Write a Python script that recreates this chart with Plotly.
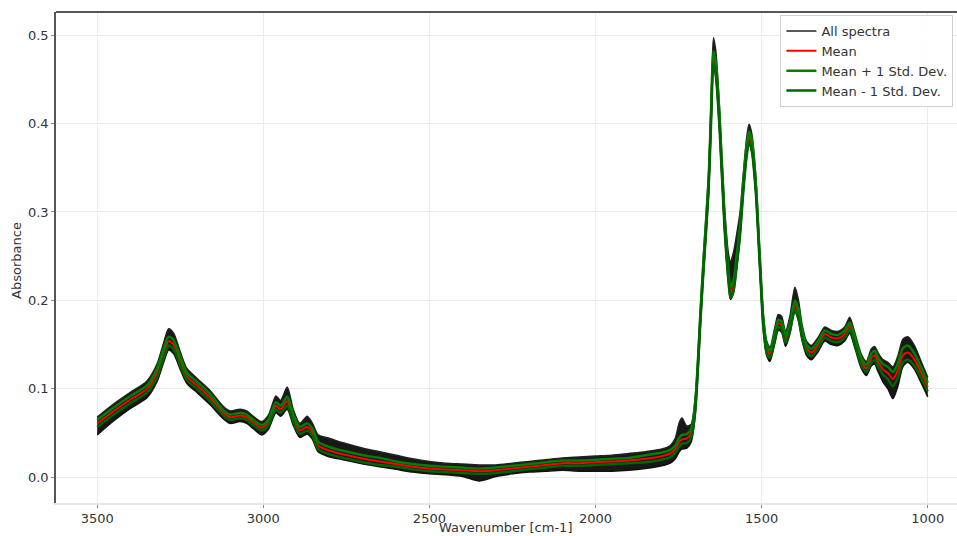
import plotly.graph_objects as go

wavenumber = [3500, 3450, 3400, 3350, 3320, 3300, 3285, 3270, 3250, 3230, 3200, 3160, 3120, 3100, 3070, 3050, 3030, 3005, 2985, 2962,
              2948, 2928, 2910, 2890, 2868, 2852, 2835, 2800, 2760, 2700, 2650, 2600, 2550, 2500, 2450, 2400, 2350, 2300, 2250, 2200,
              2150, 2100, 2050, 2000, 1950, 1900, 1850, 1800, 1775, 1760, 1748, 1740, 1725, 1712, 1700, 1690, 1685, 1675, 1660, 1652,
              1645, 1638, 1627, 1612, 1600, 1594, 1585, 1575, 1565, 1555, 1545, 1538, 1530, 1518, 1505, 1495, 1485, 1475, 1460, 1450,
              1440, 1428, 1415, 1400, 1390, 1378, 1365, 1350, 1330, 1310, 1290, 1270, 1250, 1235, 1220, 1200, 1185, 1170, 1160, 1150,
              1135, 1120, 1105, 1090, 1075, 1060, 1040, 1020, 1000]

mean_abs = [0.061, 0.075, 0.088, 0.100, 0.118, 0.140, 0.154, 0.150, 0.131, 0.114, 0.104, 0.090, 0.073, 0.068, 0.070, 0.068, 0.062, 0.056, 0.062, 0.081,
            0.077, 0.086, 0.067, 0.053, 0.057, 0.051, 0.036, 0.030, 0.026, 0.021, 0.018, 0.015, 0.012, 0.010, 0.009, 0.008, 0.007, 0.008, 0.010, 0.012,
            0.014, 0.016, 0.016, 0.017, 0.018, 0.019, 0.021, 0.024, 0.027, 0.032, 0.040, 0.043, 0.044, 0.050, 0.080, 0.140, 0.177, 0.240, 0.328, 0.410,
            0.475, 0.462, 0.403, 0.290, 0.228, 0.209, 0.216, 0.245, 0.280, 0.330, 0.370, 0.385, 0.376, 0.330, 0.240, 0.175, 0.146, 0.139, 0.160, 0.174,
            0.172, 0.156, 0.170, 0.195, 0.186, 0.162, 0.146, 0.141, 0.150, 0.162, 0.158, 0.157, 0.162, 0.171, 0.155, 0.131, 0.123, 0.135, 0.138, 0.131,
            0.122, 0.118, 0.111, 0.121, 0.138, 0.141, 0.133, 0.118, 0.102]

std_abs = [0.004, 0.004, 0.004, 0.004, 0.005, 0.005, 0.005, 0.005, 0.005, 0.004, 0.004, 0.004, 0.003, 0.003, 0.003, 0.003, 0.003, 0.003, 0.003, 0.004,
           0.004, 0.005, 0.004, 0.004, 0.004, 0.004, 0.004, 0.004, 0.004, 0.004, 0.004, 0.003, 0.003, 0.003, 0.003, 0.003, 0.003, 0.003, 0.003, 0.003,
           0.003, 0.003, 0.003, 0.003, 0.003, 0.003, 0.004, 0.004, 0.004, 0.004, 0.005, 0.005, 0.005, 0.005, 0.005, 0.005, 0.005, 0.006, 0.006, 0.007,
           0.007, 0.007, 0.007, 0.006, 0.006, 0.006, 0.006, 0.006, 0.006, 0.006, 0.006, 0.006, 0.006, 0.006, 0.005, 0.005, 0.005, 0.004, 0.004, 0.004,
           0.004, 0.004, 0.004, 0.005, 0.005, 0.004, 0.004, 0.004, 0.004, 0.004, 0.004, 0.004, 0.004, 0.004, 0.004, 0.004, 0.004, 0.005, 0.005, 0.005,
           0.006, 0.007, 0.008, 0.008, 0.008, 0.008, 0.007, 0.006, 0.005]

spread_up = [0.007, 0.008, 0.008, 0.009, 0.010, 0.012, 0.014, 0.013, 0.011, 0.009, 0.008, 0.008, 0.007, 0.007, 0.007, 0.007, 0.007, 0.007, 0.008, 0.011,
             0.010, 0.016, 0.010, 0.008, 0.012, 0.010, 0.012, 0.014, 0.013, 0.012, 0.011, 0.010, 0.009, 0.008, 0.007, 0.007, 0.007, 0.006, 0.006, 0.006,
             0.006, 0.006, 0.007, 0.007, 0.007, 0.008, 0.008, 0.008, 0.009, 0.012, 0.022, 0.024, 0.014, 0.010, 0.010, 0.010, 0.010, 0.012, 0.014, 0.018,
             0.022, 0.020, 0.016, 0.018, 0.025, 0.035, 0.038, 0.030, 0.020, 0.014, 0.014, 0.014, 0.013, 0.012, 0.010, 0.010, 0.008, 0.008, 0.010, 0.010,
             0.010, 0.009, 0.012, 0.020, 0.016, 0.010, 0.008, 0.008, 0.008, 0.008, 0.008, 0.008, 0.008, 0.010, 0.009, 0.008, 0.008, 0.010, 0.010, 0.010,
             0.011, 0.012, 0.014, 0.016, 0.018, 0.018, 0.016, 0.013, 0.011]

spread_down = [0.013, 0.011, 0.010, 0.010, 0.010, 0.010, 0.010, 0.010, 0.009, 0.008, 0.008, 0.008, 0.007, 0.007, 0.007, 0.007, 0.007, 0.008, 0.008, 0.008,
               0.008, 0.009, 0.008, 0.008, 0.008, 0.008, 0.007, 0.007, 0.006, 0.006, 0.006, 0.006, 0.006, 0.006, 0.006, 0.007, 0.011, 0.007, 0.006, 0.006,
               0.007, 0.008, 0.009, 0.010, 0.011, 0.011, 0.011, 0.011, 0.011, 0.011, 0.011, 0.011, 0.011, 0.010, 0.010, 0.010, 0.010, 0.010, 0.010, 0.010,
               0.010, 0.010, 0.010, 0.010, 0.008, 0.008, 0.008, 0.008, 0.008, 0.008, 0.008, 0.008, 0.008, 0.008, 0.008, 0.008, 0.008, 0.008, 0.008, 0.008,
               0.008, 0.008, 0.008, 0.008, 0.008, 0.008, 0.008, 0.008, 0.008, 0.008, 0.008, 0.008, 0.008, 0.008, 0.008, 0.008, 0.008, 0.009, 0.010, 0.011,
               0.014, 0.018, 0.022, 0.018, 0.013, 0.011, 0.011, 0.011, 0.011]

x_ticks = [3500, 3000, 2500, 2000, 1500, 1000]
y_ticks = [0.0, 0.1, 0.2, 0.3, 0.4, 0.5]

env_hi = [m + u for m, u in zip(mean_abs, spread_up)]
env_lo = [m - d for m, d in zip(mean_abs, spread_down)]
plus_std = [m + s for m, s in zip(mean_abs, std_abs)]
minus_std = [m - s for m, s in zip(mean_abs, std_abs)]

FONT = "DejaVu Sans"
FS = 13
TXT = "#333333"
shape = dict(shape="spline", smoothing=0.7)

fig = go.Figure()
fig.add_trace(go.Scatter(x=wavenumber, y=env_hi, mode="lines", name="All spectra",
                         line=dict(color="#222222", width=1.5, **shape)))
fig.add_trace(go.Scatter(x=wavenumber, y=env_lo, mode="lines", showlegend=False,
                         fill="tonexty", fillcolor="rgba(12,12,12,0.95)",
                         line=dict(color="#111111", width=1.5, **shape)))
fig.add_trace(go.Scatter(x=wavenumber, y=mean_abs, mode="lines", name="Mean",
                         line=dict(color="#ff0000", width=2, **shape)))
fig.add_trace(go.Scatter(x=wavenumber, y=plus_std, mode="lines", name="Mean + 1 Std. Dev.",
                         line=dict(color="#008000", width=2.5, **shape)))
fig.add_trace(go.Scatter(x=wavenumber, y=minus_std, mode="lines", name="Mean - 1 Std. Dev.",
                         line=dict(color="#006400", width=2.5, **shape)))

fig.update_layout(
    width=957, height=536,
    margin=dict(l=56, r=0, t=12, b=33, autoexpand=False),
    plot_bgcolor="white", paper_bgcolor="white",
    font=dict(family=FONT, size=FS, color=TXT),
    showlegend=True,
    legend=dict(x=0.804, y=0.994, xanchor="left", yanchor="top", traceorder="normal",
                bgcolor="rgba(255,255,255,0.9)", bordercolor="#d0d0d0", borderwidth=1,
                font=dict(family=FONT, size=FS, color=TXT),
                itemwidth=30, tracegroupgap=0),
    xaxis=dict(range=[3624, 912], tickvals=x_ticks, ticktext=[str(t) for t in x_ticks],
               showgrid=True, gridcolor="#ebebeb", gridwidth=1,
               showline=True, linecolor="#e6e6e6", linewidth=1.5,
               ticks="outside", ticklen=3, tickcolor="#888888",
               zeroline=False, automargin=False,
               tickfont=dict(family=FONT, size=FS, color=TXT)),
    yaxis=dict(range=[-0.029, 0.526], tickvals=y_ticks, ticktext=["0.0", "0.1", "0.2", "0.3", "0.4", "0.5"],
               showgrid=True, gridcolor="#ebebeb", gridwidth=1,
               showline=True, linecolor="#555555", linewidth=1.5,
               ticks="outside", ticklen=3, tickcolor="#888888",
               zeroline=False, automargin=False,
               tickfont=dict(family=FONT, size=FS, color=TXT)),
    shapes=[dict(type="line", xref="paper", yref="paper", x0=0, x1=1, y0=1, y1=1,
                 line=dict(color="#555555", width=2))],
    annotations=[
        dict(text="Wavenumber [cm-1]", xref="paper", yref="paper", x=(505 - 56) / 901, y=-0.049,
             xanchor="center", yanchor="middle", showarrow=False,
             font=dict(family=FONT, size=FS, color=TXT)),
        dict(text="Absorbance", xref="paper", yref="paper", x=-0.0433, y=0.495,
             xanchor="center", yanchor="middle", showarrow=False, textangle=-90,
             font=dict(family=FONT, size=FS, color=TXT)),
    ],
)

fig.write_html("out.html", config={"displayModeBar": False},
               post_script="document.body.style.margin='0';document.body.style.overflow='hidden';")
